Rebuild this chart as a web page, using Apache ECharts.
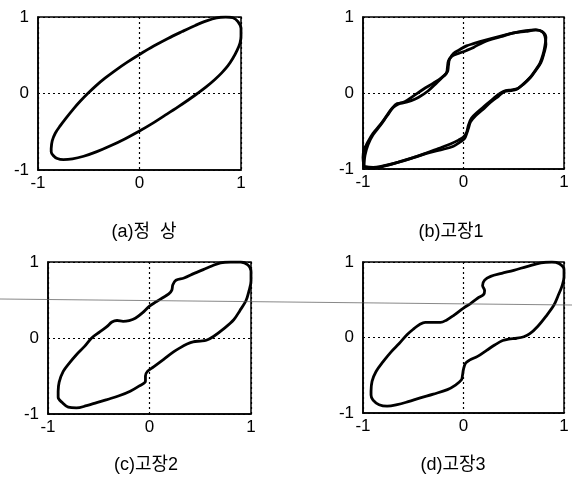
<!DOCTYPE html>
<html>
<head>
<meta charset="utf-8">
<script src="https://cdn.jsdelivr.net/npm/echarts@6/dist/echarts.min.js"></script>
<style>
  html, body { margin: 0; padding: 0; background: #fff; }
  #chart { width: 572px; height: 483px; }
</style>
</head>
<body>
<div id="chart"></div>
<script>
// tick values shared by every panel
const ticks = [-1, 0, 1]
const panelTitles = ['(a)정  상', '(b)고장1', '(c)고장2', '(d)고장3']

// (a) normal: plain ellipse
const curveA = [
  [-0.87, -0.72], [-0.86, -0.62], [-0.83, -0.52], [-0.78, -0.42], [-0.72, -0.315], [-0.65, -0.2], [-0.58, -0.095],
  [-0.51, 0], [-0.43, 0.1], [-0.34, 0.2], [-0.24, 0.3], [-0.12, 0.41], [0, 0.51], [0.14, 0.62], [0.28, 0.72],
  [0.42, 0.81], [0.55, 0.89], [0.66, 0.95], [0.76, 0.99], [0.85, 1.0], [0.92, 0.99], [0.97, 0.94], [1.0, 0.85],
  [1.0, 0.75], [0.99, 0.66], [0.96, 0.56], [0.92, 0.46], [0.87, 0.36], [0.81, 0.27], [0.74, 0.18], [0.66, 0.09],
  [0.57, 0], [0.48, -0.085], [0.38, -0.175], [0.27, -0.27], [0.14, -0.38], [0, -0.49], [-0.14, -0.59],
  [-0.28, -0.68], [-0.42, -0.76], [-0.55, -0.82], [-0.66, -0.855], [-0.75, -0.865], [-0.81, -0.85],
  [-0.85, -0.81], [-0.87, -0.76], [-0.87, -0.72],
]
// (b) fault 1: two overlapping cycles
const curveB1 = [
  [-0.99, -0.97], [-1.0, -0.85], [-0.99, -0.75], [-0.95, -0.64], [-0.9, -0.53], [-0.83, -0.42], [-0.77, -0.31],
  [-0.71, -0.2], [-0.66, -0.14], [-0.6, -0.13], [-0.52, -0.1], [-0.45, -0.06], [-0.35, 0.03], [-0.27, 0.13],
  [-0.2, 0.22], [-0.16, 0.28], [-0.15, 0.36], [-0.14, 0.44], [-0.1, 0.52], [-0.04, 0.57], [0.03, 0.62],
  [0.1, 0.65], [0.2, 0.69], [0.37, 0.75], [0.5, 0.79], [0.62, 0.82], [0.72, 0.83], [0.78, 0.81], [0.81, 0.75],
  [0.82, 0.64], [0.8, 0.52], [0.77, 0.4], [0.72, 0.3], [0.67, 0.21], [0.6, 0.12], [0.54, 0.06], [0.48, 0.04],
  [0.42, 0.03], [0.37, 0.0], [0.3, -0.07], [0.22, -0.16], [0.14, -0.25], [0.08, -0.33], [0.05, -0.42],
  [0.03, -0.52], [0.0, -0.58], [-0.05, -0.62], [-0.13, -0.67], [-0.25, -0.73], [-0.37, -0.79], [-0.52, -0.86],
  [-0.67, -0.92], [-0.8, -0.96], [-0.9, -0.98], [-0.99, -0.97],
]
const curveB2 = [
  [-0.99, -0.97], [-0.98, -0.82], [-0.95, -0.68], [-0.9, -0.55], [-0.83, -0.43], [-0.76, -0.3], [-0.7, -0.19],
  [-0.64, -0.14], [-0.58, -0.11], [-0.5, -0.04], [-0.4, 0.05], [-0.3, 0.13], [-0.22, 0.2], [-0.17, 0.26],
  [-0.16, 0.34], [-0.15, 0.42], [-0.12, 0.48], [-0.05, 0.52], [0.03, 0.56], [0.1, 0.6], [0.2, 0.67],
  [0.37, 0.74], [0.5, 0.79], [0.62, 0.81], [0.72, 0.83], [0.79, 0.8], [0.82, 0.73], [0.81, 0.62], [0.79, 0.5],
  [0.76, 0.39], [0.71, 0.29], [0.66, 0.2], [0.59, 0.11], [0.53, 0.05], [0.47, 0.03], [0.41, 0.02], [0.35, -0.04],
  [0.27, -0.12], [0.19, -0.22], [0.12, -0.3], [0.07, -0.38], [0.05, -0.46], [0.03, -0.54], [0.01, -0.6],
  [-0.04, -0.65], [-0.1, -0.7], [-0.2, -0.74], [-0.33, -0.78], [-0.5, -0.85], [-0.65, -0.91], [-0.78, -0.96],
  [-0.9, -0.99], [-0.99, -0.97],
]
// (c) fault 2
const curveC = [
  [-0.9, -0.7], [-0.89, -0.58], [-0.85, -0.44], [-0.79, -0.33], [-0.72, -0.22], [-0.64, -0.11], [-0.57, 0],
  [-0.49, 0.08], [-0.42, 0.15], [-0.37, 0.21], [-0.32, 0.23], [-0.26, 0.22], [-0.2, 0.23], [-0.14, 0.26],
  [-0.07, 0.33], [0, 0.42], [0.07, 0.48], [0.13, 0.53], [0.19, 0.58], [0.22, 0.63], [0.23, 0.7], [0.26, 0.76],
  [0.34, 0.79], [0.44, 0.85], [0.53, 0.9], [0.62, 0.95], [0.7, 0.99], [0.8, 1.0], [0.9, 1.0], [0.97, 0.96],
  [1.0, 0.88], [1.0, 0.75], [0.98, 0.62], [0.95, 0.49], [0.89, 0.36], [0.83, 0.24], [0.73, 0.12], [0.63, 0.02],
  [0.56, -0.03], [0.5, -0.04], [0.43, -0.05], [0.37, -0.08], [0.3, -0.13], [0.24, -0.18], [0.14, -0.28],
  [0.04, -0.38], [-0.02, -0.44], [-0.04, -0.5], [-0.04, -0.57], [-0.1, -0.63], [-0.19, -0.7], [-0.3, -0.76],
  [-0.42, -0.81], [-0.52, -0.85], [-0.62, -0.89], [-0.72, -0.92], [-0.8, -0.91], [-0.86, -0.85], [-0.9, -0.78],
  [-0.9, -0.7],
]
// (d) fault 3
const curveD = [
  [-0.92, -0.71], [-0.91, -0.58], [-0.87, -0.45], [-0.8, -0.32], [-0.72, -0.19], [-0.64, -0.08], [-0.56, 0.04],
  [-0.49, 0.12], [-0.44, 0.17], [-0.38, 0.2], [-0.31, 0.2], [-0.23, 0.2], [-0.17, 0.23], [-0.1, 0.29], [0, 0.39],
  [0.07, 0.45], [0.14, 0.52], [0.2, 0.57], [0.21, 0.62], [0.19, 0.69], [0.21, 0.76], [0.27, 0.81], [0.38, 0.85],
  [0.5, 0.89], [0.63, 0.94], [0.77, 0.99], [0.88, 1.0], [0.95, 0.98], [1.0, 0.9], [1.0, 0.8], [0.98, 0.68],
  [0.94, 0.55], [0.9, 0.43], [0.82, 0.28], [0.74, 0.15], [0.66, 0.05], [0.6, 0.01], [0.53, -0.01], [0.45, -0.02],
  [0.39, -0.04], [0.31, -0.1], [0.23, -0.17], [0.14, -0.25], [0.06, -0.3], [0.02, -0.34], [0.0, -0.42],
  [-0.01, -0.5], [-0.02, -0.56], [-0.08, -0.63], [-0.16, -0.69], [-0.3, -0.75], [-0.43, -0.8], [-0.55, -0.85],
  [-0.66, -0.89], [-0.76, -0.91], [-0.84, -0.89], [-0.9, -0.83], [-0.92, -0.76], [-0.92, -0.71],
]

const FONT = '"Liberation Sans", Arial, "Noto Sans CJK KR", sans-serif'
const chart = echarts.init(document.getElementById('chart'))

// plot boxes (px) and title centres
const boxes = [
  {left: 38, top: 17, width: 203, height: 153, tx: 139, ty: 218},
  {left: 363, top: 17, width: 201, height: 152, tx: 446, ty: 218},
  {left: 48, top: 262, width: 203, height: 152, tx: 141, ty: 451},
  {left: 363, top: 262, width: 201, height: 151, tx: 448, ty: 451},
]
const panelCurves = [[curveA], [curveB1, curveB2], [curveC], [curveD]]

const axisBase = (i, margin) => ({
  gridIndex: i, type: 'value', min: ticks[0], max: ticks[ticks.length - 1], interval: 1,
  axisLine: {show: true, onZero: false, lineStyle: {color: '#000', width: 1.5}},
  axisTick: {show: false},
  axisLabel: {color: '#000', fontSize: 17, fontFamily: FONT, margin},
  splitLine: {show: true, lineStyle: {color: '#000', width: 1.2, type: [2, 3]}},
})

const series = []
panelCurves.forEach((list, i) => {
  list.forEach(data => series.push({
    type: 'line', xAxisIndex: i, yAxisIndex: i, data, smooth: 0.35, showSymbol: false, silent: true,
    lineStyle: {color: '#000', width: 2.8}, z: 5,
  }))
})

chart.setOption({
  backgroundColor: '#fff',
  animation: false,
  title: boxes.map((b, i) => ({
    text: panelTitles[i], left: b.tx, top: b.ty, textAlign: 'center',
    textStyle: {color: '#000', fontSize: 18, fontWeight: 'normal', fontFamily: FONT},
  })),
  grid: boxes.map(b => ({
    left: b.left, top: b.top, width: b.width, height: b.height,
    show: true, borderColor: '#000', borderWidth: 1.5, backgroundColor: 'transparent',
  })),
  xAxis: boxes.map((b, i) => Object.assign(axisBase(i, 5), {position: 'bottom'})),
  yAxis: boxes.map((b, i) => Object.assign(axisBase(i, 9), {position: 'left'})),
  series,
  graphic: [{
    // faint scan line crossing the lower panels
    type: 'line', silent: true, z: 100,
    shape: {x1: 0, y1: 299, x2: 572, y2: 305},
    style: {stroke: '#555', lineWidth: 1, opacity: 0.7},
  }],
})
</script>
</body>
</html>
